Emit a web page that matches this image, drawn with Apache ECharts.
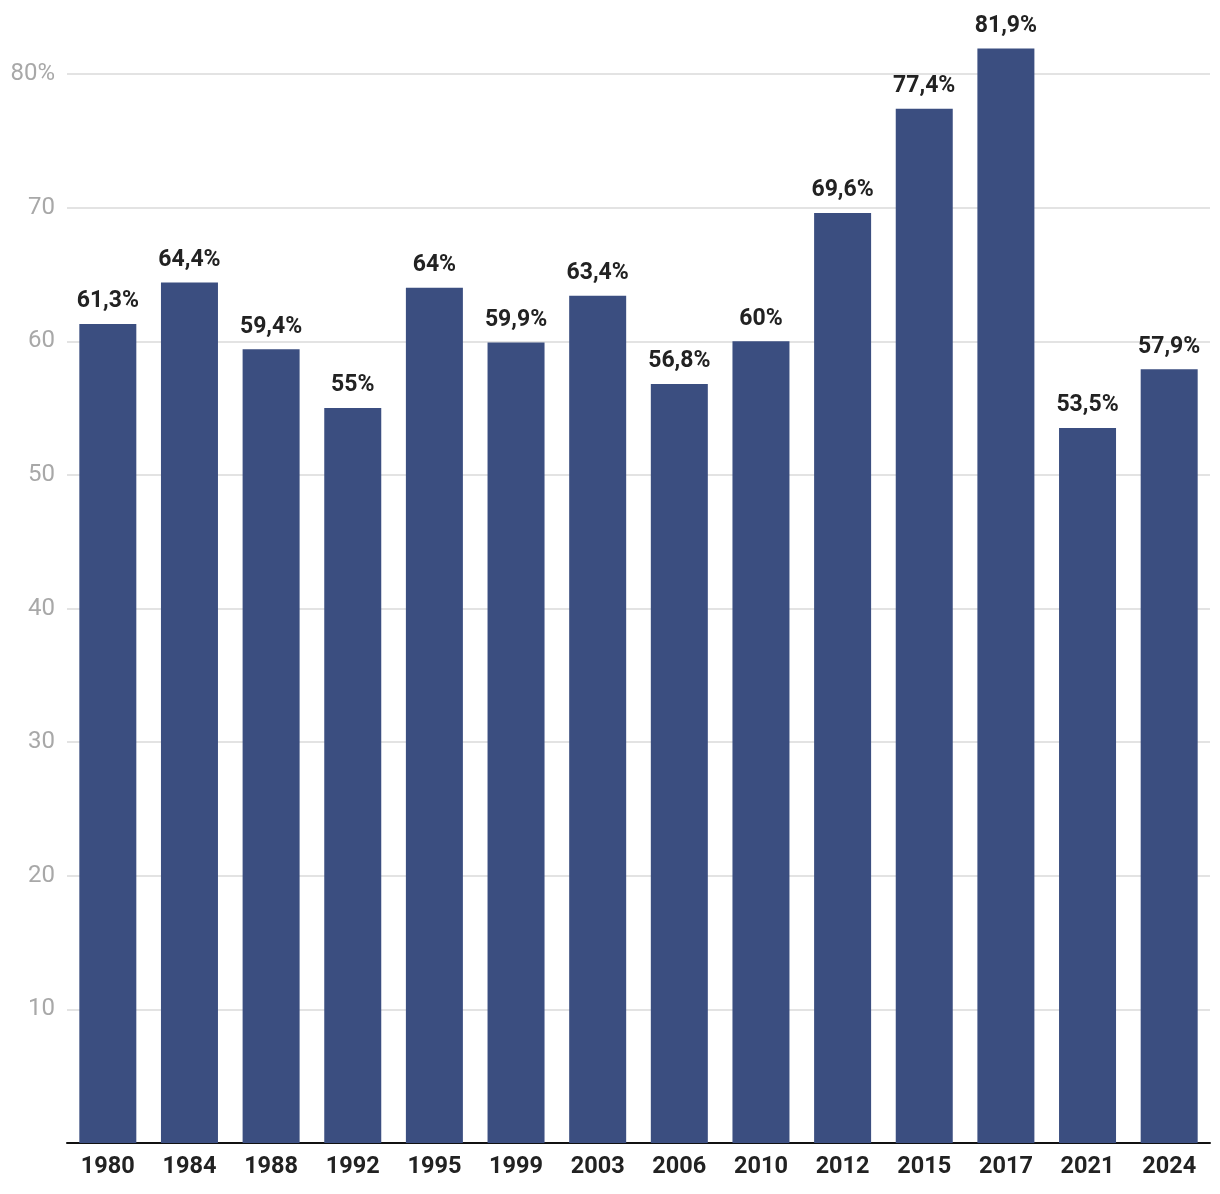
<!DOCTYPE html>
<html><head><meta charset="utf-8">
<script src="https://cdn.jsdelivr.net/npm/echarts@6/dist/echarts.min.js"></script>
<style>html,body{margin:0;padding:0;background:#fff}#c{width:1220px;height:1194px}</style>
</head><body><div id="c"></div>
<script>
const years = ['1980','1984','1988','1992','1995','1999','2003','2006','2010','2012','2015','2017','2021','2024'];
const values = [61.3,64.4,59.4,55,64,59.9,63.4,56.8,60,69.6,77.4,81.9,53.5,57.9];
const yTicks = [0,10,20,30,40,50,60,70,80];
const chart = echarts.init(document.getElementById('c'));
chart.setOption({
  animation:false,
  grid:{left:67,right:10,top:74,bottom:51,containLabel:false},
  xAxis:{type:'category',data:years,
    axisLine:{lineStyle:{color:'#111',width:2}},axisTick:{show:false},
    axisLabel:{color:'#222',fontFamily:'Roboto',fontWeight:'bold',fontSize:23.5,margin:12}},
  yAxis:{type:'value',min:0,max:80,interval:10,
    splitLine:{lineStyle:{color:'#e3e3e3',width:2}},
    axisLine:{show:false},axisTick:{show:false},
    axisLabel:{color:'#a8a8a8',fontFamily:'Roboto',fontSize:24,margin:12,
      formatter:v=>v===0?'':(v===80?v+'%':String(v))}},
  series:[{type:'bar',data:values,barWidth:57,clip:false,
    itemStyle:{color:'#3b4e80'},
    label:{show:true,position:'top',distance:11,color:'#222',fontFamily:'Roboto',fontWeight:'bold',fontSize:23,
      formatter:p=>String(p.value).replace('.',',')+'%'}}]
});
</script></body></html>
